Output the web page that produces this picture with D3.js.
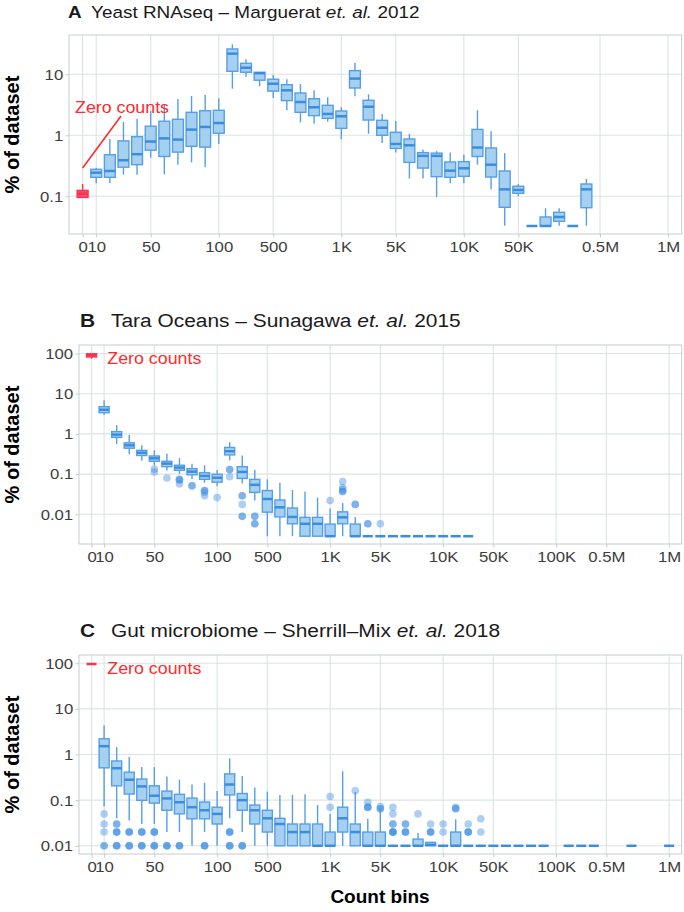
<!DOCTYPE html>
<html><head><meta charset="utf-8">
<script src="https://cdn.jsdelivr.net/npm/d3@7"></script>
<style>
body{margin:0;background:#fff}
svg text{font-family:"Liberation Sans",Arial,Helvetica,sans-serif}
</style>
</head><body>
<svg id="c" width="684" height="912"></svg>
<script>
// ---------- categories & tick labels ----------
const binsAll = ["0","10","20","30","40","50","60","70","80","90","100","200","300","400","500","600","700","800","900","1K","2K","3K","4K","5K","6K","7K","8K","9K","10K","20K","30K","40K","50K","60K","70K","80K","90K","100K","200K","300K","400K","0.5M","600K","700K","800K","900K","1M"];
const binsA = ["0","10","20","30","40","50","60","70","80","90","100","200","300","400","500","600","700","800","900","1K","2K","3K","4K","5K","6K","7K","8K","9K","10K","20K","30K","40K","50K","60K","70K","80K","90K","400K","0.5M","600K","700K","800K","900K","1M"];
const tickBins = ["0","10","50","100","500","1K","5K","10K","50K","100K","0.5M","1M"];
const yTicksA = [0.1, 1, 10];
const yTicksBC = [0.01, 0.1, 1, 10, 100];

// ---------- Panel A: Yeast RNAseq (box stats per bin, aligned with binsA) ----------
const lowA  = [0.096,0.163,0.163,0.226,0.226,0.43,0.23,0.33,0.36,0.30,0.72, 5.8,9.1,6.4,4.1,2.57,1.63,1.55,1.67,0.86, 4.36,1.06,0.75,0.52,0.195,0.195,0.098,0.163,0.163, 0.33,0.13,0.033,0.1,0.0326,0.0326,0.033,0.0326, 0.033,null,null,null,null,null,null];
const q1A   = [0.096,0.205,0.205,0.30,0.33,0.57,0.45,0.53,0.66,0.64,1.08, 11.2,10.8,8.0,5.3,3.7,2.38,2.1,1.9,1.30, 5.96,1.78,1.0,0.61,0.36,0.29,0.21,0.205,0.213, 0.45,0.207,0.066,0.112,0.0326,0.0326,0.039,0.0326, 0.065,null,null,null,null,null,null];
const medA  = [0.11,0.244,0.26,0.39,0.49,0.79,0.89,0.85,1.24,1.37,1.59, 21.8,12.8,10.4,7.0,5.46,3.51,2.88,2.24,2.05, 8.5,2.94,1.33,0.72,0.685,0.46,0.46,0.263,0.288, 0.63,0.33,0.13,0.127,0.0326,0.0326,0.0458,0.0326, 0.13,null,null,null,null,null,null];
const q3A   = [0.125,0.277,0.48,0.81,0.95,1.41,1.70,1.83,2.38,2.53,2.57, 26,15.1,10.8,8.3,6.75,4.93,3.98,3.1,2.5, 11.5,3.75,1.76,1.12,0.87,0.52,0.51,0.365,0.37, 1.25,0.62,0.26,0.146,0.0326,0.0458,0.0547,0.0326, 0.159,null,null,null,null,null,null];
const highA = [0.159,0.294,0.87,1.65,1.87,2.53,3.26,3.94,4.4,4.57,4.04, 31,17.6,10.9,9.7,8.3,6.93,5.5,4.2,2.88, 15.3,4.7,2.23,1.71,1.06,0.58,0.55,0.52,0.48, 2.57,1.17,0.51,0.159,0.0326,0.0636,0.0636,0.0326, 0.192,null,null,null,null,null,null];
const outBinA = [];
const outValA = [];

// ---------- Panel B: Tara Oceans (aligned with binsAll) ----------
const lowB  = [74, 2.94,0.56,0.31,0.215,0.166,0.122,0.102,0.074,0.061,0.05, 0.22,0.058,0.022,0.00285,0.00285,0.00285,0.00285,0.00285,0.00285, 0.00285,0.00285,0.00285,0.00285,0.00285,0.00285,0.00285,0.00285,0.00285, 0.00285,0.00285, null,null,null,null,null,null,null,null,null,null,null,null,null,null,null,null];
const q1B   = [82, 3.37,0.82,0.44,0.29,0.208,0.153,0.124,0.096,0.074,0.063, 0.30,0.078,0.035,0.0113,0.0086,0.0058,0.00285,0.00285,0.00285, 0.0058,0.00285,0.00285,0.00285,0.00285,0.00285,0.00285,0.00285,0.00285, 0.00285,0.00285, null,null,null,null,null,null,null,null,null,null,null,null,null,null,null,null];
const medB  = [92, 3.98,0.96,0.52,0.34,0.247,0.182,0.145,0.115,0.09,0.081, 0.37,0.113,0.054,0.024,0.0149,0.0086,0.0058,0.0058,0.00285, 0.0084,0.00285,0.00285,0.00285,0.00285,0.00285,0.00285,0.00285,0.00285, 0.00285,0.00285, null,null,null,null,null,null,null,null,null,null,null,null,null,null,null,null];
const q3B   = [98, 4.75,1.14,0.60,0.39,0.282,0.208,0.166,0.136,0.108,0.099, 0.46,0.153,0.074,0.039,0.0227,0.0143,0.0084,0.0084,0.0057, 0.0115,0.0057,0.00285,0.00285,0.00285,0.00285,0.00285,0.00285,0.00285, 0.00285,0.00285, null,null,null,null,null,null,null,null,null,null,null,null,null,null,null,null];
const highB = [100, 6.87,1.64,0.94,0.52,0.39,0.32,0.25,0.18,0.166,0.127, 0.62,0.29,0.127,0.074,0.061,0.04,0.037,0.026,0.014, 0.019,0.0086,0.00285,0.00285,0.00285,0.00285,0.00285,0.00285,0.00285, 0.00285,0.00285, null,null,null,null,null,null,null,null,null,null,null,null,null,null,null,null];
const outBinB = ["50","50","60","70","70","70","70","80","80","90","90","90","90","100","200","200","200","300","300","300","300","300","400","400","400","400","1K","2K","2K","2K","2K","2K","3K","3K","4K","4K","5K"];
const outValB = [0.134,0.113,0.08,0.074,0.074,0.069,0.057,0.051,0.051,0.039,0.039,0.035,0.029,0.026,0.13,0.13,0.086,0.029,0.029,0.0176,0.0089,0.0089,0.0089,0.0089,0.0058,0.0058,0.022,0.065,0.046,0.041,0.037,0.037,0.0176,0.0176,0.0058,0.0058,0.0058];

// ---------- Panel C: Gut microbiome (aligned with binsAll) ----------
const lowC  = [96, 0.073,0.04,0.036,0.03,0.03,0.02,0.02,0.01,0.02,0.01, 0.04,0.02,0.01,0.01,0.01,0.01,0.01,0.01,0.01, 0.01,0.01,0.01,0.01,0.01,0.01,0.01,0.01,0.01, 0.01,0.01,0.01,0.01,0.01,0.01,0.01,0.01, null,0.01,0.01,0.01, null,null,0.01,null,null,0.01];
const q1C   = [96, 0.51,0.206,0.136,0.099,0.086,0.06,0.05,0.039,0.039,0.03, 0.13,0.06,0.03,0.02,0.01,0.01,0.01,0.01,0.01, 0.02,0.01,0.01,0.01,0.01,0.01,0.01,0.01,0.01, 0.01,0.01,0.01,0.01,0.01,0.01,0.01,0.01, null,0.01,0.01,0.01, null,null,0.01,null,null,0.01];
const medC  = [96, 1.52,0.5,0.28,0.2,0.125,0.109,0.09,0.07,0.06,0.05, 0.22,0.1,0.06,0.04,0.03,0.02,0.02,0.01,0.01, 0.04,0.02,0.01,0.01,0.01,0.01,0.01,0.0105,0.01, 0.01,0.01,0.01,0.01,0.01,0.01,0.01,0.01, null,0.01,0.01,0.01, null,null,0.01,null,null,0.01];
const q3C   = [96, 2.21,0.72,0.41,0.29,0.206,0.158,0.134,0.111,0.091,0.07, 0.376,0.14,0.078,0.06,0.04,0.03,0.03,0.03,0.02, 0.07,0.03,0.02,0.02,0.01,0.01,0.014,0.0119,0.01, 0.02,0.01,0.01,0.01,0.01,0.01,0.01,0.01, null,0.01,0.01,0.01, null,null,0.01,null,null,0.01];
const highC = [96, 4.3,1.45,0.88,0.53,0.53,0.33,0.28,0.22,0.24,0.158, 0.82,0.34,0.19,0.155,0.13,0.13,0.135,0.078,0.05, 0.43,0.15,0.039,0.065,0.01,0.01,0.019,0.0119,0.01, 0.038,0.01,0.01,0.01,0.01,0.01,0.01,0.01, null,0.01,0.01,0.01, null,null,0.01,null,null,0.01];
const outBinC = ["10","10","10","10","10", "20","20","20","20","20","20","20","20", "30","30","30","30","30","30", "40","40","40","40","40","40", "50","50","50","50","50","50", "60","60","60", "70","70","70", "90","90","90", "200","200","200","200","200","200", "300","300","300", "1K","1K", "3K", "4K","4K","4K","4K", "5K","5K","5K", "6K","6K","6K","6K","6K","6K","6K","6K", "7K","7K","7K","7K","7K", "8K", "9K","9K","9K","9K", "10K","10K", "20K","20K","20K", "30K","30K","30K","30K", "40K","40K"];
const outValC = [0.05,0.03,0.02,0.01,0.01, 0.03,0.03,0.02,0.02,0.02,0.01,0.01,0.01, 0.02,0.02,0.02,0.01,0.01,0.01, 0.02,0.02,0.02,0.01,0.01,0.01, 0.02,0.02,0.02,0.01,0.01,0.01, 0.01,0.01,0.01, 0.01,0.01,0.01, 0.01,0.01,0.01, 0.02,0.02,0.02,0.01,0.01,0.01, 0.01,0.01,0.01, 0.12,0.07, 0.16, 0.09,0.07,0.07,0.07, 0.072,0.065,0.065, 0.07,0.05,0.03,0.03,0.02,0.02,0.02,0.02, 0.03,0.03,0.02,0.02,0.02, 0.05, 0.03,0.02,0.02,0.02, 0.03,0.02, 0.07,0.065,0.065, 0.03,0.02,0.02,0.02, 0.039,0.02];

// ---------- styling ----------
const SX = 1.1;
const BLUE_FILL = "#a5d0f0", BLUE_LINE = "#569fe6", BLUE_MED = "#3b8de0";
const RED_FILL = "#ef5571", RED_LINE = "#ff3050", RED_TXT = "#ff2b2b";
const GRID = "#dce3e3", BORDER = "#c5cdcd", TICKTXT = "#3d3d3d";

const svg = d3.select("#c");

function drawPanel(cfg){
  const g = svg.append("g");
  const x = d3.scalePoint().domain(cfg.bins).range([cfg.left, cfg.right]).padding(1);
  const y = d3.scaleLog().domain(cfg.ydom).range([cfg.bottom, cfg.top]);
  const ticksX = tickBins.filter(b => cfg.bins.includes(b));
  // grid
  g.selectAll(".vg").data(ticksX).join("line")
    .attr("x1", d => x(d)).attr("x2", d => x(d)).attr("y1", cfg.top).attr("y2", cfg.bottom)
    .attr("stroke", GRID).attr("stroke-width", 1.1);
  g.selectAll(".hg").data(cfg.yTicks).join("line")
    .attr("x1", cfg.left).attr("x2", cfg.right).attr("y1", d => y(d)).attr("y2", d => y(d))
    .attr("stroke", GRID).attr("stroke-width", 1.1);
  g.append("rect").attr("x", cfg.left).attr("y", cfg.top)
    .attr("width", cfg.right - cfg.left).attr("height", cfg.bottom - cfg.top)
    .attr("fill", "none").attr("stroke", BORDER).attr("stroke-width", 1);
  // axes
  const ax = g.append("g").attr("transform", `translate(0,${cfg.bottom})`)
    .call(d3.axisBottom(x).tickValues(ticksX).tickSize(3.5).tickPadding(4));
  const ay = g.append("g").attr("transform", `translate(${cfg.left},0)`)
    .call(d3.axisLeft(y).tickValues(cfg.yTicks).tickFormat(d3.format("~g")).tickSize(3.5).tickPadding(1.8));
  [ax, ay].forEach(a => {
    a.select(".domain").remove();
    a.selectAll(".tick line").attr("stroke", BORDER);
    a.selectAll(".tick text").attr("fill", TICKTXT).attr("font-size", 15.2)
      .attr("font-family", '"Liberation Sans",Arial,sans-serif')
      .attr("transform", `scale(${SX},1)`);
  });
  // boxes
  const bw = x.step() * 0.8;
  cfg.bins.forEach((b, i) => {
    if (cfg.low[i] == null) return;
    const zero = (b === "0");
    const lc = zero ? RED_LINE : BLUE_LINE, fc = zero ? RED_FILL : BLUE_FILL, mc = zero ? RED_LINE : BLUE_MED;
    const cx = x(b);
    const yl = y(cfg.low[i]), y1 = y(cfg.q1[i]), ym = y(cfg.med[i]), y3 = y(cfg.q3[i]), yh = y(cfg.high[i]);
    g.append("line").attr("x1", cx).attr("x2", cx).attr("y1", yh).attr("y2", y3).attr("stroke", lc).attr("stroke-width", 1.4);
    g.append("line").attr("x1", cx).attr("x2", cx).attr("y1", y1).attr("y2", yl).attr("stroke", lc).attr("stroke-width", 1.4);
    g.append("rect").attr("x", cx - bw/2).attr("y", y3).attr("width", bw).attr("height", Math.max(0, y1 - y3))
      .attr("fill", fc).attr("stroke", lc).attr("stroke-width", 1.4);
    g.append("line").attr("x1", cx - bw/2).attr("x2", cx + bw/2).attr("y1", ym).attr("y2", ym)
      .attr("stroke", mc).attr("stroke-width", 2.5);
  });
  // outliers
  g.selectAll(".out").data(cfg.outBin.map((b, i) => [b, cfg.outVal[i]])).join("circle")
    .attr("cx", d => x(d[0])).attr("cy", d => y(d[1])).attr("r", 3.8)
    .attr("fill", "#3a8de2").attr("fill-opacity", 0.42);
  // y title
  svg.append("text").attr("transform", `translate(19,${(cfg.top + cfg.bottom)/2}) rotate(-90)`)
    .attr("text-anchor", "middle").attr("font-weight", "bold").attr("font-size", 20).attr("fill", "#000")
    .text("% of dataset");
  return {x, y, g};
}

function title(xl, xt, yb, fs, letter, pre, year){
  svg.append("text").attr("transform", `translate(${xl},${yb}) scale(${SX},1)`)
    .attr("font-size", fs).attr("font-weight", "bold").attr("fill", "#1a1a1a").text(letter);
  const t = svg.append("text").attr("transform", `translate(${xt},${yb}) scale(${SX},1)`)
    .attr("font-size", fs).attr("fill", "#1a1a1a").style("white-space", "pre");
  t.append("tspan").text(pre);
  t.append("tspan").attr("font-style", "italic").text("et. al.");
  t.append("tspan").text(" " + year);
}
function zeroLabel(xs, yb){
  svg.append("text").attr("transform", `translate(${xs},${yb}) scale(${SX},1)`)
    .attr("font-size", 16.2).attr("fill", RED_TXT).text("Zero counts");
}

// Panel A
title(68, 91, 18, 17.2, "A", "Yeast RNAseq – Marguerat ", "2012");
const pA = drawPanel({bins: binsA, left: 69, right: 681.7, top: 35, bottom: 234,
  ydom: [Math.pow(10, -1.618), Math.pow(10, 1.644)], yTicks: yTicksA,
  low: lowA, q1: q1A, med: medA, q3: q3A, high: highA, outBin: outBinA, outVal: outValA});
svg.append("line").attr("x1", pA.x("0")).attr("y1", pA.y(0.29))
  .attr("x2", pA.x("20") + pA.x.step()*0.82).attr("y2", pA.y(2.07))
  .attr("stroke", RED_TXT).attr("stroke-width", 1.6);
zeroLabel(75, 113.3);

// Panel B
title(80, 111, 327.3, 19, "B", "Tara Oceans – Sunagawa ", "2015");
drawPanel({bins: binsAll, left: 79, right: 681.7, top: 345, bottom: 544,
  ydom: [Math.pow(10, -2.739), Math.pow(10, 2.211)], yTicks: yTicksBC,
  low: lowB, q1: q1B, med: medB, q3: q3B, high: highB, outBin: outBinB, outVal: outValB});
zeroLabel(107.3, 364);

// Panel C
title(80, 111, 637.3, 19, "C", "Gut microbiome – Sherrill–Mix ", "2018");
drawPanel({bins: binsAll, left: 79, right: 681.7, top: 655, bottom: 854,
  ydom: [Math.pow(10, -2.18), Math.pow(10, 2.18)], yTicks: yTicksBC,
  low: lowC, q1: q1C, med: medC, q3: q3C, high: highC, outBin: outBinC, outVal: outValC});
zeroLabel(107.3, 674);

// x title
svg.append("text").attr("x", 380).attr("y", 903).attr("text-anchor", "middle")
  .attr("font-weight", "bold").attr("font-size", 19).attr("fill", "#000").text("Count bins");
</script>
</body></html>
